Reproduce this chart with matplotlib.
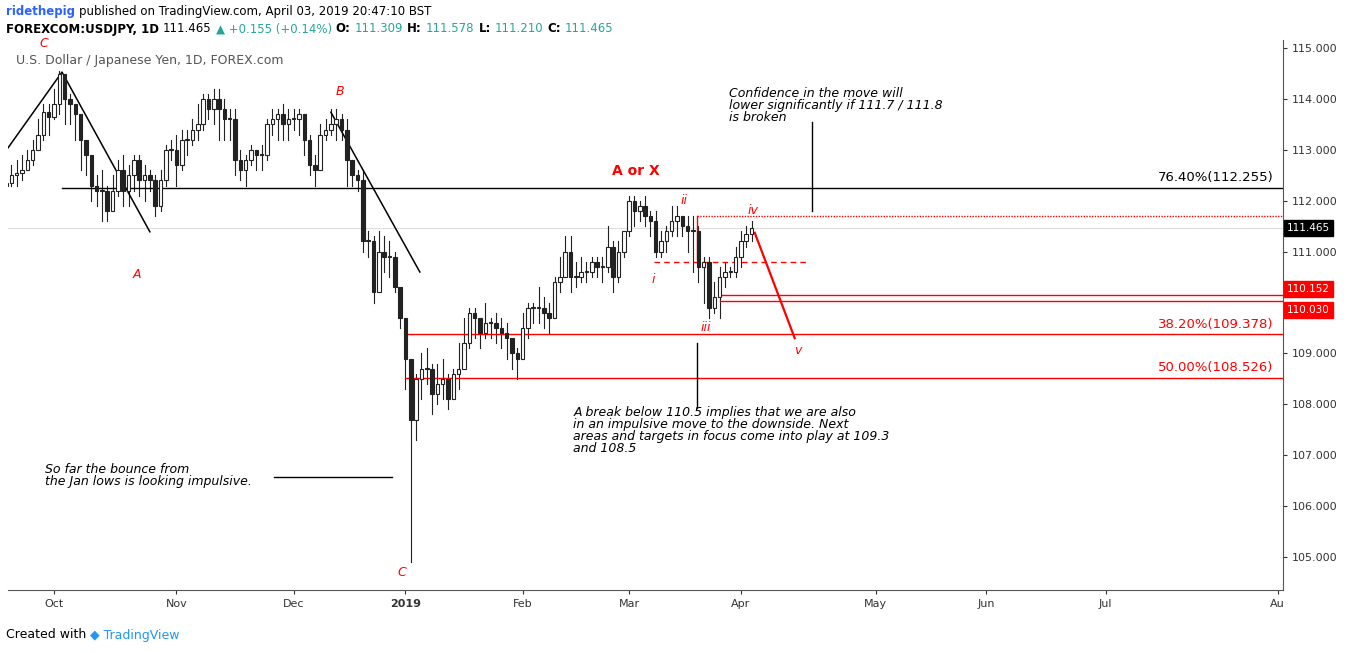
import matplotlib
matplotlib.use("Agg")
import matplotlib.pyplot as plt
from matplotlib.patches import Rectangle

# daily closes, Sep 18 2018 .. Apr 03 2019 (opens = previous close)
closes = [112.35, 112.5, 112.55, 112.6, 112.8, 113.0, 113.3, 113.75, 113.65,
          113.9, 114.5, 114.0, 113.9, 113.7,
          113.2, 112.9, 112.3, 112.2, 112.2, 111.8, 112.2, 112.6, 112.2, 112.5,
          112.8, 112.4, 112.5, 112.4, 111.9, 112.4, 113.0, 113.0,
          112.7, 113.2, 113.2, 113.4, 113.5, 114.0, 113.8, 114.0, 113.8, 113.6, 113.6, 112.8,
          112.6, 112.8, 113.0, 112.9, 112.9, 113.5, 113.6, 113.7, 113.5, 113.6,
          113.6, 113.7, 113.2, 112.7, 112.6, 113.3, 113.4, 113.5, 113.6, 113.4,
          112.8, 112.5, 112.4, 111.2, 111.2, 110.2, 111.0, 110.9, 110.9, 110.3, 109.7,
          108.9, 107.7, 108.5, 108.7, 108.7, 108.2, 108.4, 108.5, 108.1, 108.6, 108.7,
          109.2, 109.8, 109.7, 109.4, 109.6, 109.6, 109.5, 109.4, 109.3, 109.0, 108.9,
          109.5, 109.9, 109.9, 109.9, 109.8, 109.7, 110.4, 110.5, 111.0, 110.5, 110.5,
          110.6, 110.6, 110.8, 110.7, 110.7, 111.1, 110.5, 111.0, 111.4, 112.0,
          111.8, 111.9, 111.7, 111.6, 111.0, 111.2, 111.4, 111.6, 111.7, 111.5,
          111.4, 111.4, 110.7, 110.8, 109.9, 110.1, 110.5, 110.6, 110.6, 110.9,
          111.2, 111.35, 111.465]
highs = [112.7, 112.7, 112.8, 112.9, 113.0, 113.2, 113.6, 113.9, 113.9,
         114.2, 114.55, 114.5, 114.1, 113.9,
         113.7, 113.2, 112.9, 112.5, 112.6, 112.3, 112.5, 112.8, 112.9, 112.7,
         112.9, 112.9, 112.7, 112.6, 112.5, 112.6, 113.1, 113.2,
         113.3, 113.4, 113.4, 113.6, 113.9, 114.1, 114.1, 114.2, 114.2, 114.0, 113.8, 113.8,
         113.0, 112.9, 113.1, 113.0, 113.1, 113.6, 113.8, 113.8, 113.9, 113.8,
         113.8, 113.8, 113.7, 113.3, 112.9, 113.5, 113.6, 113.8, 113.8, 113.7,
         113.6, 112.8, 112.6, 112.6, 111.4, 111.3, 111.4, 111.3, 111.2, 111.0, 110.0,
         109.7, 108.2, 108.6, 109.0, 109.1, 108.8, 108.8, 108.9, 108.6, 108.7, 109.2,
         109.7, 109.9, 109.9, 109.7, 110.0, 109.7, 109.8, 109.7, 109.6, 109.2, 109.1,
         109.8, 110.0, 110.0, 110.3, 110.1, 110.0, 110.5, 110.9, 111.3, 111.3, 110.8,
         110.9, 110.8, 110.9, 110.9, 110.9, 111.5, 111.2, 111.2, 111.4, 112.1,
         112.1, 112.0, 112.1, 111.8, 111.8, 111.4, 111.5, 111.9, 111.9, 111.7,
         111.7, 111.7, 111.5, 110.9, 110.9, 110.4, 110.7, 110.8, 110.7, 111.1,
         111.4, 111.5, 111.6]
lows = [112.1, 112.3, 112.3, 112.4, 112.6, 112.7, 113.0, 113.2, 113.3,
        113.6, 113.7, 113.5, 113.5, 113.2,
        112.6, 112.5, 112.0, 111.9, 111.6, 111.6, 111.8, 112.1, 111.9, 111.9,
        112.2, 112.1, 112.0, 112.2, 111.7, 111.8, 112.3, 112.8,
        112.3, 112.6, 112.9, 113.1, 113.2, 113.4, 113.6, 113.5, 113.2, 113.2, 113.2, 112.5,
        112.4, 112.3, 112.7, 112.6, 112.6, 112.8, 113.3, 113.2, 113.2, 113.2,
        113.4, 113.3, 112.9, 112.5, 112.3, 112.6, 113.2, 113.3, 113.2, 113.2,
        112.3, 112.3, 112.2, 111.0, 110.9, 110.0, 110.4, 110.6, 110.5, 110.2, 109.5,
        108.3, 104.9, 107.3, 108.1, 108.4, 107.8, 108.0, 108.1, 107.9, 108.1, 108.3,
        108.7, 109.1, 109.3, 109.1, 109.3, 109.3, 109.2, 109.1, 108.9, 108.7, 108.5,
        108.9, 109.3, 109.6, 109.6, 109.5, 109.4, 109.7, 110.2, 110.5, 110.2, 110.3,
        110.4, 110.4, 110.5, 110.5, 110.4, 110.6, 110.2, 110.4, 110.9, 111.3,
        111.5, 111.6, 111.5, 111.3, 110.9, 110.9, 111.0, 111.3, 111.3, 111.3,
        111.0, 110.6, 110.4, 110.0, 109.7, 109.8, 109.7, 110.3, 110.5, 110.5,
        110.7, 111.1, 111.2]
opens = [112.3] + closes[:-1]

month_labels = ["Oct", "Nov", "Dec", "2019", "Feb", "Mar", "Apr", "May", "Jun", "Jul", "Au"]
month_pos = [9, 32, 54, 75, 97, 117, 138, 163.3, 184, 206.5, 238.8]
price_ticks = [105, 106, 107, 108, 109, 110, 111, 112, 113, 114, 115]

fig = plt.figure(figsize=(13.48, 6.53), dpi=100)
ax = fig.add_axes([8 / 1348, 1 - 590 / 653, (1283 - 8) / 1348, (590 - 40) / 653])
ax.set_xlim(0.36, 239.8)
ax.set_ylim(104.35, 115.16)

for i, (o, h, l, c) in enumerate(zip(opens, highs, lows, closes)):
    up = c >= o
    ax.plot([i, i], [l, h], color="#222222", lw=0.8, zorder=2)
    body = max(abs(c - o), 0.02)
    ax.add_patch(Rectangle((i - 0.33, min(o, c)), 0.66, body, facecolor="white" if up else "#222222",
                           edgecolor="#222222", lw=0.8, zorder=3))

red = "#ff0000"
# annotation lines
ax.axhline(closes[-1], color="#dddddd", lw=0.8, zorder=1)
ax.plot([0.36, 10.5, 27], [113.04, 114.53, 111.39], color="black", lw=1.1)
ax.plot([61, 77.7], [113.74, 110.6], color="black", lw=1.1)
ax.plot([10.5, 239.8], [112.255, 112.255], color="black", lw=1)
ax.plot([75, 239.8], [109.378, 109.378], color=red, lw=1)
ax.plot([75, 239.8], [108.526, 108.526], color=red, lw=1)
ax.plot([134, 239.8], [110.152, 110.152], color=red, lw=1)
ax.plot([134, 239.8], [110.030, 110.030], color=red, lw=1)
ax.plot([129.7, 239.8], [111.7, 111.7], color=red, lw=1, ls=(0, (1, 1)))
ax.plot([129.7, 129.7], [110.85, 111.7], color=red, lw=1)
ax.plot([121.6, 150.2], [110.8, 110.8], color=red, lw=1, ls=(0, (4, 3)))
ax.plot([140.6, 148.1], [111.37, 109.3], color=red, lw=1.6)
ax.plot([151.3, 151.3], [111.8, 113.55], color="black", lw=1)
ax.plot([129.7, 129.7], [107.93, 109.2], color="black", lw=1)
ax.plot([50.3, 72.5], [106.57, 106.57], color="black", lw=1)

ax.text(238, 112.33, "76.40%(112.255)", ha="right", va="bottom", fontsize=9.5)
ax.text(238, 109.45, "38.20%(109.378)", ha="right", va="bottom", fontsize=9.5, color=red)
ax.text(238, 108.6, "50.00%(108.526)", ha="right", va="bottom", fontsize=9.5, color=red)

labels = [(7, 115.1, "C"), (24.6, 110.55, "A"), (62.7, 114.15, "B"), (74.4, 104.7, "C"),
          (121.6, 110.45, "i"), (127.3, 112.0, "ii"), (131.4, 109.5, "iii"),
          (140.2, 111.8, "iv"), (148.7, 109.05, "v")]
for x, y, t in labels:
    ax.text(x, y, t, color=red, fontsize=9, style="italic", ha="center", va="center")
ax.text(118.3, 112.58, "A or X", color=red, fontsize=10, fontweight="bold", ha="center", va="center")

ax.text(135.8, 113.5, "Confidence in the move will\nlower significantly if 111.7 / 111.8\nis broken",
        fontsize=9, style="italic", va="bottom", linespacing=0.9)
ax.text(106.5, 107.0, "A break below 110.5 implies that we are also\nin an impulsive move to the downside. Next\n"
        "areas and targets in focus come into play at 109.3\nand 108.5",
        fontsize=9, style="italic", va="bottom", linespacing=0.9)
ax.text(7.3, 106.35, "So far the bounce from\nthe Jan lows is looking impulsive.",
        fontsize=9, style="italic", va="bottom", linespacing=0.9)
ax.text(0.006, 0.975, "U.S. Dollar / Japanese Yen, 1D, FOREX.com", transform=ax.transAxes,
        fontsize=9, color="#555555", va="top")

ax.yaxis.tick_right()
ax.set_yticks(price_ticks)
# 110.000 is covered by the red price tags in the reference
ax.set_yticklabels(["" if p == 110 else f"{p:.3f}" for p in price_ticks], fontsize=8)
ax.set_xticks(month_pos)
ax.set_xticklabels(month_labels, fontsize=8)
for lab in ax.get_xticklabels():
    if lab.get_text() == "2019":
        lab.set_fontweight("bold")
ax.tick_params(length=3, colors="#333333")
for s in ["top", "left"]:
    ax.spines[s].set_visible(False)
ax.spines["right"].set_color("#555555")
ax.spines["bottom"].set_color("#555555")

# right axis price tags (shifted apart like the reference)
span = 115.16 - 104.35
for val, ypos, fc in [(closes[-1], closes[-1], "black"), (110.152, 110.27, red), (110.030, 109.86, red)]:
    ax.text(1.003, (ypos - 104.35) / span, f"{val:.3f}", transform=ax.transAxes,
            fontsize=7.5, color="white", va="center", ha="left",
            bbox=dict(boxstyle="square,pad=0.3", fc=fc, ec=fc))

# header rows: place pieces one after another
renderer = fig.canvas.get_renderer()


def text_row(y_px, pieces, x_px=6, size=8.5):
    for t, col, w in pieces:
        txt = fig.text(x_px / 1348, 1 - y_px / 653, t, color=col, fontsize=size, fontweight=w, va="center")
        x_px += txt.get_window_extent(renderer).width + 4


green = "#26a69a"
text_row(11, [("ridethepig", "#2962ff", "bold"),
              ("published on TradingView.com, April 03, 2019 20:47:10 BST", "black", "normal")])
text_row(29, [("FOREXCOM:USDJPY, 1D", "black", "bold"), ("111.465", "black", "normal"),
              ("\u25b2 +0.155 (+0.14%)", green, "normal"), ("O:", "black", "bold"), ("111.309", green, "normal"),
              ("H:", "black", "bold"), ("111.578", green, "normal"), ("L:", "black", "bold"),
              ("111.210", green, "normal"), ("C:", "black", "bold"), ("111.465", green, "normal")])
text_row(635, [("Created with", "black", "normal"), ("\u25c6 TradingView", "#2196f3", "normal")], size=9)

fig.savefig("out.png", dpi=100)
